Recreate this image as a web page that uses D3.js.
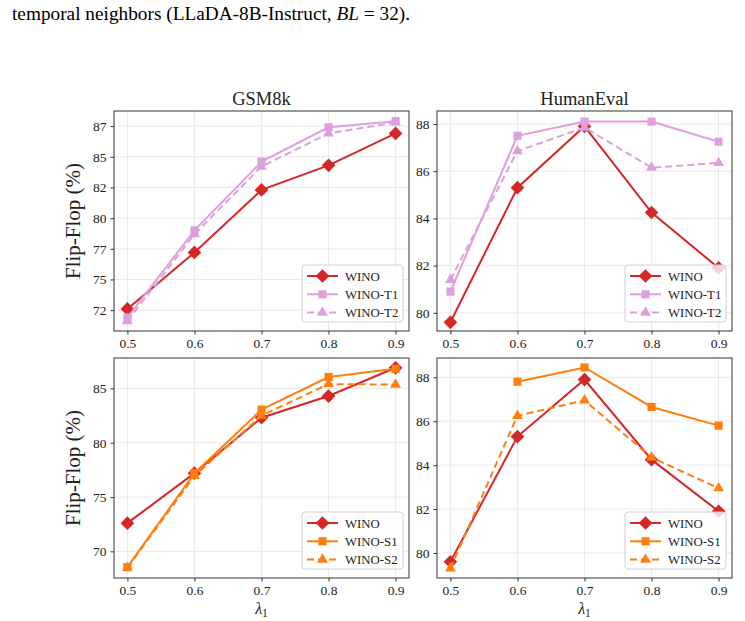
<!DOCTYPE html>
<html>
<head>
<meta charset="utf-8">
<script src="https://cdn.jsdelivr.net/npm/d3@7"></script>
<style>
  body { margin: 0; background: #fff; }
  svg text { font-family: "Liberation Serif", "DejaVu Serif", serif; fill: #222; }
</style>
</head>
<body>
<div id="chart"></div>
<script>
// values
const lambdas = [0.5, 0.6, 0.7, 0.8, 0.9];
const xTicks = [0.5, 0.6, 0.7, 0.8, 0.9];

const gsmWino = [72.6, 77.2, 82.3, 84.3, 86.9];
const gsmT1 = [71.9, 79.0, 84.6, 87.4, 87.9];
const gsmT2 = [71.6, 78.7, 84.2, 86.9, 87.8];
const heWino = [79.6, 85.3, 87.9, 84.25, 81.9];
const heT1 = [80.9, 87.5, 88.1, 88.1, 87.25];
const heT2 = [81.4, 86.85, 87.85, 86.15, 86.35];

const gsmS1 = [68.55, 77.2, 83.05, 86.05, 86.8];
const gsmS2 = [68.5, 76.95, 82.5, 85.4, 85.35];
const heS1 = [null, 87.8, 88.45, 86.65, 85.8];
const heS2 = [79.3, 86.25, 86.95, 84.35, 82.95];

const gsmTopTicks = [72.5, 75, 77.5, 80, 82.5, 85, 87.5];
const heTopTicks = [80, 82, 84, 86, 88];
const gsmBotTicks = [70, 75, 80, 85];
const heBotTicks = [80, 82, 84, 86, 88];

const topLabels = ["WINO", "WINO-T1", "WINO-T2"];
const botLabels = ["WINO", "WINO-S1", "WINO-S2"];

const red = "#d62728", plum = "#dda0dd", orange = "#ff7f0e";

const svg = d3.select("#chart").append("svg")
  .attr("width", 745).attr("height", 621);

// caption fragment at the top
const cap = svg.append("text").attr("x", 12).attr("y", 20)
  .style("font-size", "19.3px").style("fill", "#000");
cap.append("tspan").text("temporal neighbors (LLaDA-8B-Instruct, ");
cap.append("tspan").style("font-style", "italic").text("BL");
cap.append("tspan").text(" = 32).");

const panels = [
  { x: 114, y: 111, title: "GSM8k", domain: [70.8, 88.73], ticks: gsmTopTicks, ylab: true, xlab: false,
    series: [gsmWino, gsmT1, gsmT2], labels: topLabels, col2: plum },
  { x: 437, y: 111, title: "HumanEval", domain: [79.23, 88.55], ticks: heTopTicks, ylab: false, xlab: false,
    series: [heWino, heT1, heT2], labels: topLabels, col2: plum },
  { x: 114, y: 358, title: null, domain: [67.55, 87.8], ticks: gsmBotTicks, ylab: true, xlab: true,
    series: [gsmWino, gsmS1, gsmS2], labels: botLabels, col2: orange },
  { x: 437, y: 358, title: null, domain: [78.86, 88.88], ticks: heBotTicks, ylab: false, xlab: true,
    series: [heWino, heS1, heS2], labels: botLabels, col2: orange },
];

const W = 295, H = 220;
const symbols = [
  d3.symbol().type(d3.symbolDiamond2).size(120),
  d3.symbol().type(d3.symbolSquare2).size(85),
  d3.symbol().type(d3.symbolTriangle2).size(85),
];

panels.forEach((p) => {
  const g = svg.append("g").attr("transform", `translate(${p.x},${p.y})`);
  const x = d3.scaleLinear().domain([0.48, 0.92]).range([0, W]);
  const y = d3.scaleLinear().domain(p.domain).range([H, 0]);

  // grid
  g.append("g").selectAll("line").data(xTicks).join("line")
    .attr("x1", (d) => x(d)).attr("x2", (d) => x(d)).attr("y1", 0).attr("y2", H)
    .attr("stroke", "#e3e3e3").attr("stroke-width", 0.8);
  g.append("g").selectAll("line").data(p.ticks).join("line")
    .attr("y1", (d) => y(d)).attr("y2", (d) => y(d)).attr("x1", 0).attr("x2", W)
    .attr("stroke", "#e3e3e3").attr("stroke-width", 0.8);

  // axes
  const xa = g.append("g").attr("transform", `translate(0,${H})`)
    .call(d3.axisBottom(x).tickValues(xTicks).tickFormat(d3.format(".1f")).tickSize(3.5).tickPadding(4));
  const ya = g.append("g")
    .call(d3.axisLeft(y).tickValues(p.ticks).tickFormat((d) => Math.floor(d)).tickSize(3.5).tickPadding(4));
  [xa, ya].forEach((a) => {
    a.select(".domain").remove();
    a.selectAll("line").attr("stroke", "#333");
    a.selectAll("text").style("font-size", "13.5px").style("font-family", "Liberation Serif").attr("fill", "#222");
  });

  const colors = [red, p.col2, p.col2];
  const dashes = [null, null, "7,4"];
  const line = d3.line().defined((d) => d[1] != null).x((d) => x(d[0])).y((d) => y(d[1]));

  p.series.forEach((s, i) => {
    const pts = lambdas.map((l, j) => [l, s[j]]);
    g.append("path").datum(pts).attr("d", line)
      .attr("fill", "none").attr("stroke", colors[i]).attr("stroke-width", 2)
      .attr("stroke-dasharray", dashes[i]);
    g.append("g").selectAll("path").data(pts.filter((d) => d[1] != null)).join("path")
      .attr("transform", (d) => `translate(${x(d[0])},${y(d[1])})`)
      .attr("d", symbols[i]).attr("fill", colors[i]);
  });

  // frame
  g.append("rect").attr("width", W).attr("height", H)
    .attr("fill", "none").attr("stroke", "#333").attr("stroke-width", 1);

  // legend
  const lg = g.append("g").attr("transform", `translate(${W - 107},${H - 66})`);
  lg.append("rect").attr("width", 101).attr("height", 57).attr("rx", 3)
    .attr("fill", "#fff").attr("fill-opacity", 0.8).attr("stroke", "#d0d0d0");
  p.labels.forEach((lab, i) => {
    const cy = 11 + i * 18.3;
    lg.append("line").attr("x1", 5).attr("x2", 36).attr("y1", cy).attr("y2", cy)
      .attr("stroke", colors[i]).attr("stroke-width", 2).attr("stroke-dasharray", dashes[i]);
    lg.append("path").attr("transform", `translate(20.5,${cy})`).attr("d", symbols[i]).attr("fill", colors[i]);
    lg.append("text").attr("x", 43).attr("y", cy + 4.5).style("font-size", "12.8px").text(lab);
  });

  if (p.title) {
    g.append("text").attr("x", W / 2).attr("y", -6).attr("text-anchor", "middle")
      .style("font-size", "18.5px").text(p.title);
  }
  if (p.ylab) {
    g.append("text").attr("transform", `translate(-34,${H / 2}) rotate(-90)`)
      .attr("text-anchor", "middle").style("font-size", "21px").text("Flip-Flop (%)");
  }
  if (p.xlab) {
    const t = g.append("text").attr("x", W / 2).attr("y", H + 36).attr("text-anchor", "middle")
      .style("font-size", "16px");
    t.append("tspan").style("font-style", "italic").text("λ");
    t.append("tspan").attr("dy", 3).style("font-size", "11.5px").text("1");
  }
});
</script>
</body>
</html>
